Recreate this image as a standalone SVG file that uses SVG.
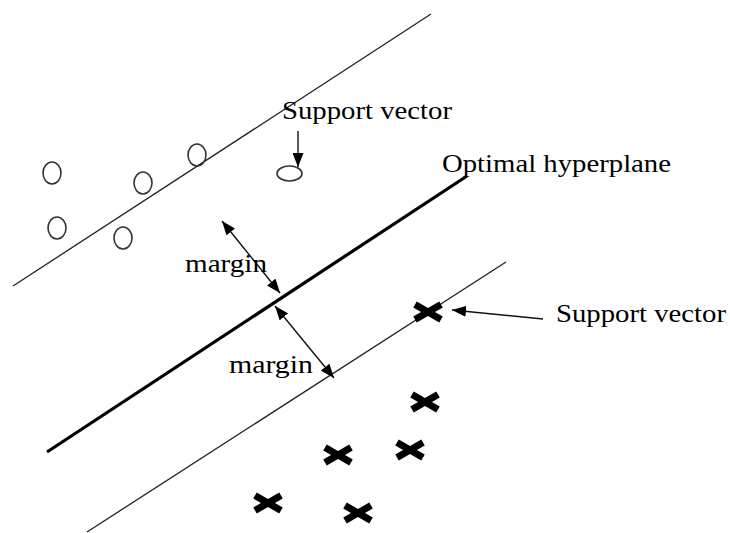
<svg xmlns="http://www.w3.org/2000/svg" width="730" height="533" viewBox="0 0 730 533">
<defs>
<style>
.t{font-family:"Liberation Serif","Times New Roman",serif;font-size:26px;fill:#000}
.thin{stroke:#222;stroke-width:1.3;fill:none}
.thick{stroke:#000;stroke-width:3.2;fill:none}
.arr{stroke:#111;stroke-width:1.4;fill:none}
.o{stroke:#333;stroke-width:1.6;fill:none}
.x{stroke:#000;stroke-width:7;stroke-linecap:butt}
</style>
<marker id="ah" viewBox="0 0 14 11" refX="14" refY="5.5" markerWidth="14" markerHeight="11" markerUnits="userSpaceOnUse" orient="auto-start-reverse">
<path d="M0,0 L14,5.5 L0,11 Z" fill="#000"/>
</marker>
</defs>
<rect width="730" height="533" fill="#fff"/>
<g id="connectors">
<line class="thin" x1="13" y1="286" x2="431" y2="14"/>
<line class="thick" x1="47" y1="452" x2="467" y2="176"/>
<line class="thin" x1="87" y1="532" x2="506" y2="262"/>
<line class="arr" x1="222" y1="221" x2="280" y2="293" marker-start="url(#ah)" marker-end="url(#ah)"/>
<line class="arr" x1="275" y1="306" x2="334" y2="378" marker-start="url(#ah)" marker-end="url(#ah)"/>
<line class="arr" x1="298" y1="131" x2="298" y2="167" marker-end="url(#ah)"/>
<line class="arr" x1="543" y1="319" x2="452" y2="310" marker-end="url(#ah)"/>
</g>
<g id="circles">
<ellipse class="o" cx="52" cy="173" rx="9" ry="11"/>
<ellipse class="o" cx="57" cy="228" rx="9" ry="11"/>
<ellipse class="o" cx="143" cy="183" rx="9" ry="11"/>
<ellipse class="o" cx="123" cy="238" rx="9" ry="11"/>
<ellipse class="o" cx="197" cy="155" rx="9" ry="11"/>
<ellipse id="sv-circle" class="o" cx="289.5" cy="173.5" rx="12.5" ry="7.5"/>
</g>
<g id="crosses">
<g id="sv-cross" transform="translate(428,312)"><line class="x" x1="-13" y1="-7.5" x2="13" y2="7.5"/><line class="x" x1="-13" y1="7.5" x2="13" y2="-7.5"/></g>
<g transform="translate(425,402)"><line class="x" x1="-13" y1="-7.5" x2="13" y2="7.5"/><line class="x" x1="-13" y1="7.5" x2="13" y2="-7.5"/></g>
<g transform="translate(338,455)"><line class="x" x1="-13" y1="-7.5" x2="13" y2="7.5"/><line class="x" x1="-13" y1="7.5" x2="13" y2="-7.5"/></g>
<g transform="translate(410,450)"><line class="x" x1="-13" y1="-7.5" x2="13" y2="7.5"/><line class="x" x1="-13" y1="7.5" x2="13" y2="-7.5"/></g>
<g transform="translate(268,503)"><line class="x" x1="-13" y1="-7.5" x2="13" y2="7.5"/><line class="x" x1="-13" y1="7.5" x2="13" y2="-7.5"/></g>
<g transform="translate(358,513)"><line class="x" x1="-13" y1="-7.5" x2="13" y2="7.5"/><line class="x" x1="-13" y1="7.5" x2="13" y2="-7.5"/></g>
</g>
<g id="labels">
<text id="sv-top" class="t" x="282" y="119" textLength="170" lengthAdjust="spacingAndGlyphs">Support vector</text>
<text id="opt" class="t" x="442" y="172" textLength="229" lengthAdjust="spacingAndGlyphs">Optimal hyperplane</text>
<text id="sv-right" class="t" x="556" y="322" textLength="170" lengthAdjust="spacingAndGlyphs">Support vector</text>
<text id="m1" class="t" x="185" y="272" textLength="82" lengthAdjust="spacingAndGlyphs">margin</text>
<text id="m2" class="t" x="229" y="373" textLength="84" lengthAdjust="spacingAndGlyphs">margin</text>
</g>
</svg>
